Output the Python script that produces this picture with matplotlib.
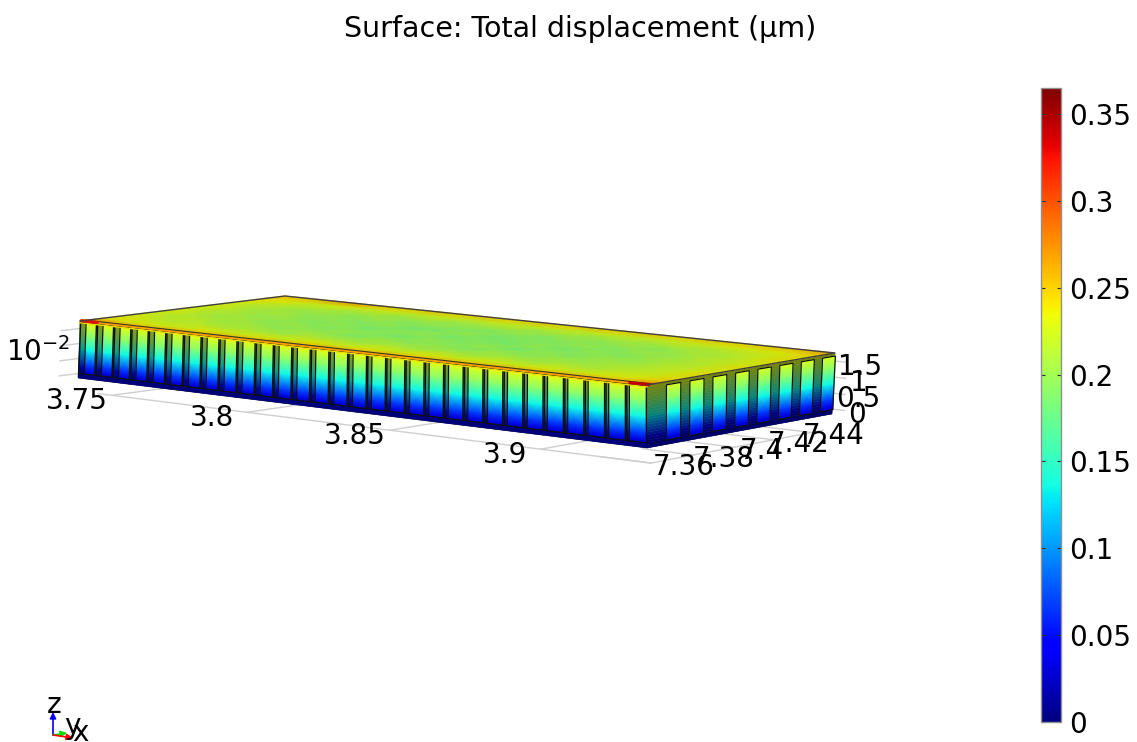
import numpy as np
import matplotlib
matplotlib.use('Agg')
from matplotlib import pyplot as plt
from matplotlib.cm import ScalarMappable
from matplotlib.colors import Normalize

plt.rcParams['mathtext.default'] = 'regular'

title = 'Surface: Total displacement (µm)'
x_ticks = [3.75, 3.8, 3.85, 3.9]
x_labels = ['3.75', '3.8', '3.85', '3.9']
y_ticks = [7.36, 7.38, 7.4, 7.42, 7.44]
y_labels = ['7.36', '7.38', '7.4', '7.42', '7.44']
z_ticks = [0, 0.5, 1, 1.5]
z_labels = ['0', '0.5', '1', '1.5']
cbar_ticks = [0, 0.05, 0.1, 0.15, 0.2, 0.25, 0.3, 0.35]
cbar_labels = ['0', '0.05', '0.1', '0.15', '0.2', '0.25', '0.3', '0.35']
vmax = 0.365

# box extent in model units
x_range = (3.717, 3.919)
y_range = (7.382, 7.4776)
z_range = (-0.15, 1.75)
n_front = 30
n_side = 8

# displacement up the height of the cell walls
wall_h = [0.0, 0.12, 0.25, 0.5, 0.75, 0.9, 1.0]
wall_u = [0.005, 0.03, 0.07, 0.135, 0.19, 0.215, 0.235]

# displacement on the top plate, rows go front to back
top_u = np.array([
    [0.31, 0.26, 0.25, 0.26, 0.25, 0.26, 0.25, 0.26, 0.25, 0.26, 0.25, 0.26, 0.25, 0.26, 0.25, 0.26, 0.25, 0.26, 0.25, 0.26, 0.30],
    [0.24, 0.235, 0.23, 0.225, 0.235, 0.225, 0.23, 0.225, 0.235, 0.225, 0.23, 0.225, 0.235, 0.225, 0.23, 0.225, 0.23, 0.225, 0.23, 0.235, 0.25],
    [0.235, 0.225, 0.215, 0.22, 0.21, 0.215, 0.205, 0.215, 0.21, 0.205, 0.215, 0.205, 0.21, 0.205, 0.215, 0.205, 0.215, 0.21, 0.22, 0.225, 0.24],
    [0.23, 0.215, 0.22, 0.205, 0.21, 0.195, 0.205, 0.2, 0.19, 0.205, 0.195, 0.2, 0.19, 0.205, 0.195, 0.205, 0.2, 0.21, 0.215, 0.225, 0.24],
    [0.23, 0.22, 0.205, 0.21, 0.195, 0.205, 0.19, 0.2, 0.195, 0.185, 0.2, 0.19, 0.2, 0.185, 0.2, 0.19, 0.205, 0.2, 0.215, 0.22, 0.235],
    [0.23, 0.215, 0.21, 0.2, 0.205, 0.19, 0.2, 0.185, 0.195, 0.2, 0.185, 0.195, 0.185, 0.2, 0.185, 0.2, 0.19, 0.205, 0.21, 0.22, 0.24],
    [0.23, 0.22, 0.205, 0.21, 0.195, 0.2, 0.19, 0.2, 0.185, 0.19, 0.2, 0.185, 0.195, 0.19, 0.2, 0.19, 0.205, 0.2, 0.215, 0.22, 0.235],
    [0.23, 0.215, 0.21, 0.2, 0.205, 0.195, 0.205, 0.19, 0.2, 0.195, 0.19, 0.2, 0.19, 0.2, 0.195, 0.205, 0.195, 0.21, 0.21, 0.225, 0.24],
    [0.235, 0.225, 0.215, 0.215, 0.205, 0.21, 0.2, 0.21, 0.2, 0.205, 0.21, 0.2, 0.21, 0.2, 0.21, 0.205, 0.215, 0.21, 0.22, 0.225, 0.24],
    [0.24, 0.235, 0.225, 0.23, 0.225, 0.225, 0.22, 0.225, 0.22, 0.225, 0.22, 0.225, 0.22, 0.225, 0.22, 0.225, 0.225, 0.23, 0.23, 0.235, 0.245],
    [0.25, 0.25, 0.26, 0.27, 0.25, 0.245, 0.25, 0.245, 0.25, 0.245, 0.25, 0.245, 0.25, 0.245, 0.25, 0.245, 0.25, 0.245, 0.25, 0.255, 0.27],
])


def homography(src, dst):
    A = []
    b = []
    for (x, y), (u, v) in zip(src, dst):
        A.append([x, y, 1, 0, 0, 0, -u * x, -u * y])
        A.append([0, 0, 0, x, y, 1, -v * x, -v * y])
        b += [u, v]
    return np.append(np.linalg.solve(np.array(A, float), np.array(b, float)), 1).reshape(3, 3)


corners = [(0, 0), (1, 0), (1, 1), (0, 1)]
# where the box corners land on the page
H_top = homography(corners, [(80, 321), (647, 385), (835, 353), (285, 296)])
H_bot = homography(corners, [(78, 378), (647, 448), (832, 414), (285, 352)])


def plane(H, s, t):
    w = H[2, 0] * s + H[2, 1] * t + H[2, 2]
    return (H[0, 0] * s + H[0, 1] * t + H[0, 2]) / w, (H[1, 0] * s + H[1, 1] * t + H[1, 2]) / w


def project(x, y, z=None, h=None):
    # model coords to page pixels, h is height fraction 0..1
    s = (np.asarray(x, float) - x_range[0]) / (x_range[1] - x_range[0])
    t = (np.asarray(y, float) - y_range[0]) / (y_range[1] - y_range[0])
    if h is None:
        h = (z - z_range[0]) / (z_range[1] - z_range[0])
    u0, v0 = plane(H_bot, s, t)
    u1, v1 = plane(H_top, s, t)
    return u0 + (u1 - u0) * h, v0 + (v1 - v0) * h


fig = plt.figure(figsize=(11.37, 7.42), dpi=100)
ax = fig.add_axes([0, 0, 1, 1])
ax.set_xlim(0, 1137)
ax.set_ylim(742, 0)
ax.axis('off')

cmap = plt.get_cmap('jet')
norm = Normalize(0, vmax)
grid = '#cfcfcf'
fs = 20

# floor grid
x0, x1 = x_range
y0, y1 = y_range
y_floor = y_ticks[0]
x_floor = 3.935
p = project([3.745, x_floor, x_floor], [y_floor, y_floor, y_ticks[-1] + 0.006], h=0)
ax.plot(p[0], p[1], color=grid, lw=1, zorder=1)
for xt, lab in zip(x_ticks, x_labels):
    p = project([xt, xt], [y_floor, y0], h=0)
    ax.plot(p[0], p[1], color=grid, lw=1, zorder=1)
    u, v = project(xt, y_floor, h=0)
    ax.text(u - 35, v + 6, lab, fontsize=fs, ha='center', va='center', zorder=5)
for yt, lab in zip(y_ticks, y_labels):
    p = project([x1, x_floor], [yt, yt], h=0)
    ax.plot(p[0], p[1], color=grid, lw=1, zorder=1)
    u, v = project(x_floor, yt, h=0)
    ax.text(u + 33 - 11 * (yt - y_floor) / 0.08, v + 4, lab, fontsize=fs, ha='center', va='center', zorder=5)
for zt, lab in zip(z_ticks, z_labels):
    p = project([x0, x0], [y0, y0 - 0.008], z=zt)
    ax.plot(p[0], p[1], color=grid, lw=1, zorder=1)
    p = project([x1, x1 + 0.004], [y1, y1], z=zt)
    ax.plot(p[0], p[1], color=grid, lw=1, zorder=1)
    u, v = project(x1, y1, z=zt)
    ax.text(u + 25, v + 6, lab, fontsize=fs, ha='center', va='center', zorder=5)
ax.text(38, 352, r'$10^{-2}$', fontsize=fs, ha='center', va='center', zorder=5)


def wall(xa, xb, ya, yb, ha, hb, dim=1.0, z=3):
    # one gradient patch on a vertical face
    h = np.array([v for v in wall_h if ha <= v <= hb])
    h = np.unique(np.r_[ha, h, hb])
    u = np.interp(h, wall_h, wall_u)
    X = np.zeros((len(h), 2))
    Y = np.zeros((len(h), 2))
    X[:, 0], Y[:, 0] = project(xa, ya, h=h)
    X[:, 1], Y[:, 1] = project(xb, yb, h=h)
    if dim == 1.0:
        ax.pcolormesh(X, Y, np.c_[u, u], cmap=cmap, norm=norm, shading='gouraud', zorder=z)
    else:
        # darker inner walls, built as a stack of flat strips
        hh = np.linspace(ha, hb, 25)
        uu = np.interp(hh, wall_h, wall_u)
        cc = cmap(norm(uu))[:, :3] * dim
        for i in range(len(hh) - 1):
            a = project(xa, ya, h=hh[i])
            b = project(xb, yb, h=hh[i])
            c = project(xb, yb, h=hh[i + 1])
            d = project(xa, ya, h=hh[i + 1])
            ax.fill([a[0], b[0], c[0], d[0]], [a[1], b[1], c[1], d[1]],
                    color=cc[i], lw=0.4, zorder=z)


def outline(xa, xb, ya, yb, ha, hb, z=4, lw=1.0):
    p = project([xa, xb, xb, xa, xa], [ya, yb, yb, ya, ya], h=np.array([ha, ha, hb, hb, ha]))
    ax.plot(p[0], p[1], color='#101010', lw=lw, zorder=z, solid_joinstyle='miter')


# front face
wall(x0, x1, y0, y0, 0, 1, dim=0.55, z=2)
xe = np.linspace(x0, x1, n_front + 1)
for i in range(n_front):
    pitch = xe[i + 1] - xe[i]
    f = 1 - i / (n_front - 1)
    strip = (0.12 + 0.2 * f) * pitch
    a = xe[i] + 0.04 * pitch
    b = a + strip
    c = xe[i + 1] - 0.03 * pitch
    wall(a, b, y0, y0, 0.1, 0.97, dim=0.62, z=3)
    wall(b, c, y0, y0, 0.09, 0.97, z=3)
    outline(a, c, y0, y0, 0.08, 0.98, lw=1.0)
    p = project([b, b], [y0, y0], h=np.array([0.08, 0.98]))
    ax.plot(p[0], p[1], color='#101010', lw=0.9, zorder=4)

# side face
wall(x1, x1, y0, y1, 0, 1, dim=0.52, z=2)
for i in range(n_side):
    a = y0 + (y1 - y0) * (0.097 + 0.119 * i)
    b = a + (y1 - y0) * 0.073
    wall(x1, x1, a, b, 0.07, 0.95, z=3)
    outline(x1, x1, a, b, 0.07, 0.95, lw=0.9)

# bottom plate band
band = project([x0, x1, x1, x0], [y0, y0, y0, y0], h=np.array([0, 0, 0.07, 0.07]))
ax.fill(band[0], band[1], color='#00007a', lw=0, zorder=5)
band = project([x1, x1, x1, x1], [y0, y1, y1, y0], h=np.array([0, 0, 0.05, 0.05]))
ax.fill(band[0], band[1], color='#00006a', lw=0, zorder=5)

# top plate
s = np.linspace(x0, x1, top_u.shape[1])
t = np.linspace(y0, y1, top_u.shape[0])
S, T = np.meshgrid(s, t)
X, Y = project(S, T, h=1.0)
ax.pcolormesh(X, Y, top_u, cmap=cmap, norm=norm, shading='gouraud', zorder=6)
# the plate is lit a bit darker than the colour bar
p = project([x0, x1, x1, x0], [y0, y0, y1, y1], h=1.0)
ax.fill(p[0], p[1], color='black', alpha=0.1, lw=0, zorder=6.5)

# rim and edges of the plate
p = project([x0, x1], [y0 + 0.0012, y0 + 0.0012], h=1.0)
ax.plot(p[0], p[1], color=cmap(norm(0.27)), lw=2.0, zorder=7)
p = project([x0, x1], [y0, y0], h=0.97)
ax.plot(p[0], p[1], color='#f0e000', lw=1.0, zorder=5)
p = project([x0, x1], [y0 + 0.0028, y0 + 0.0028], h=1.0)
ax.plot(p[0], p[1], color='#3a3a20', lw=0.8, zorder=7)
p = project([x0, x0 + 0.006], [y0 + 0.0008, y0 + 0.0008], h=1.0)
ax.plot(p[0], p[1], color='#e01000', lw=2.2, zorder=8)
p = project([x1 - 0.006, x1], [y0 + 0.0008, y0 + 0.0008], h=1.0)
ax.plot(p[0], p[1], color='#c00000', lw=2.2, zorder=8)
p = project([x0, x0, x1, x1], [y0, y1, y1, y0], h=1.0)
ax.plot(p[0], p[1], color='#404040', lw=1.0, zorder=8)

ax.text(580, 29, title, fontsize=20.5, ha='center', va='center')

# axis triad
ax.annotate('', xy=(53, 712), xytext=(53, 735),
            arrowprops=dict(arrowstyle='-|>', color='#0000ff', lw=1.2, mutation_scale=9, shrinkA=0, shrinkB=0))
ax.annotate('', xy=(67, 733), xytext=(53, 735),
            arrowprops=dict(arrowstyle='-|>', color='#00e000', lw=1.2, mutation_scale=9, shrinkA=0, shrinkB=0))
ax.annotate('', xy=(73, 738), xytext=(53, 735),
            arrowprops=dict(arrowstyle='-|>', color='#ff0000', lw=1.2, mutation_scale=9, shrinkA=0, shrinkB=0))
ax.text(54, 705, 'z', fontsize=fs, ha='center', va='center')
ax.text(72, 726, 'y', fontsize=fs, ha='center', va='center')
ax.text(80, 733, 'x', fontsize=fs, ha='center', va='center')

# colorbar
cax = fig.add_axes([1041 / 1137, 1 - 722 / 742, 20 / 1137, 634 / 742])
cb = fig.colorbar(ScalarMappable(norm=norm, cmap=cmap), cax=cax)
cb.set_ticks(cbar_ticks)
cb.set_ticklabels(cbar_labels)
cax.tick_params(direction='in', length=3, width=0.8, color='#303030', left=True, right=True,
                labelsize=fs, pad=6)
cb.outline.set_edgecolor('#909090')
cb.outline.set_linewidth(1)

fig.savefig('out.png', dpi=100)
